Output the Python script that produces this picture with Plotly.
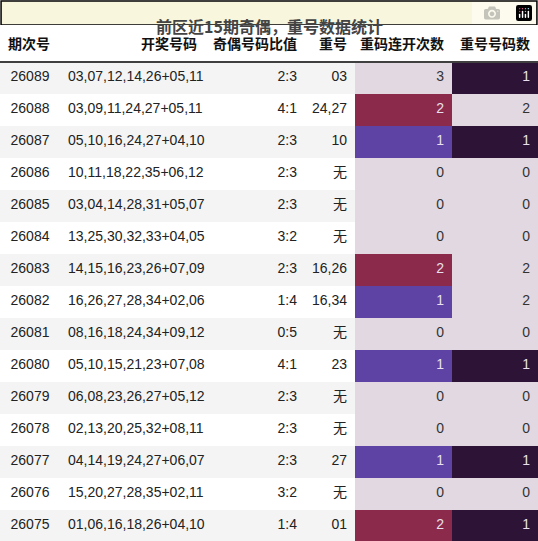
import plotly.graph_objects as go

periods = ["26089","26088","26087","26086","26085","26084","26083","26082","26081","26080","26079","26078","26077","26076","26075"]
numbers = ["03,07,12,14,26+05,11","03,09,11,24,27+05,11","05,10,16,24,27+04,10","10,11,18,22,35+06,12","03,04,14,28,31+05,07",
           "13,25,30,32,33+04,05","14,15,16,23,26+07,09","16,26,27,28,34+02,06","08,16,18,24,34+09,12","05,10,15,21,23+07,08",
           "06,08,23,26,27+05,12","02,13,20,25,32+08,11","04,14,19,24,27+06,07","15,20,27,28,35+02,11","01,06,16,18,26+04,10"]
ratios = ["2:3","4:1","2:3","2:3","2:3","3:2","2:3","1:4","0:5","4:1","2:3","2:3","2:3","3:2","1:4"]
repeats = ["03","24,27","10","无","无","无","16,26","16,34","无","23","无","无","27","无","01"]
streak = [3,2,1,0,0,0,2,1,0,1,0,0,1,0,2]
repeat_count = [1,2,1,0,0,0,2,2,0,1,0,0,1,0,1]
headers = ["期次号","开奖号码","奇偶号码比值","重号","重码连开次数","重号号码数"]

LIGHT = "#e2d8e2"
streak_col = {0: LIGHT, 3: LIGHT, 2: "#8b2a4b", 1: "#5e43a5"}
count_col = {0: LIGHT, 2: LIGHT, 1: "#2d1436"}
stripe = ["#f4f4f4" if i % 2 == 0 else "#ffffff" for i in range(len(periods))]
c5 = [streak_col[v] for v in streak]
c6 = [count_col[v] for v in repeat_count]
f5 = ["#e8e0ee" if v in (1, 2) else "#333333" for v in streak]
f6 = ["#e8e0ee" if v == 1 else "#333333" for v in repeat_count]
fc = ["#222222"] * len(periods)

fig = go.Figure(go.Table(
    columnwidth=[60, 145, 100, 50, 97, 86],
    header=dict(values=[f"<b>{h}</b>" for h in headers], height=37,
                align=["left", "right", "right", "right", "right", "right"],
                fill_color="white", line_color="white",
                font=dict(family="Noto Sans CJK SC", size=14, color="#111")),
    cells=dict(values=[periods, numbers, ratios, repeats, streak, repeat_count], height=32,
               align=["center", "left", "right", "right", "right", "right"],
               fill_color=[stripe, stripe, stripe, stripe, c5, c6],
               line_color=[stripe, stripe, stripe, stripe, c5, c6],
               font=dict(family="Liberation Sans, Noto Sans CJK SC", size=14,
                         color=[fc, fc, fc, fc, f5, f6])),
    domain=dict(x=[0, 1], y=[0, 1 - 25 / 541]),
))
fig.add_shape(type="rect", xref="paper", yref="paper", x0=0.002, x1=0.998, y0=1 - 25 / 541, y1=0.998,
              fillcolor="#f8f6dc", line=dict(color="black", width=1.5), layer="below")
fig.add_shape(type="line", xref="paper", yref="paper", x0=0, x1=1, y0=1 - 62 / 541, y1=1 - 62 / 541,
              line=dict(color="black", width=1.5))
fig.add_annotation(text="<b>前区近15期奇偶，重号数据统计</b>", xref="paper", yref="paper", x=0.5,
                   y=1 - 12.5 / 541, showarrow=False,
                   font=dict(family="Noto Sans CJK SC", size=16, color="#444"))
fig.update_layout(width=538, height=541, margin=dict(l=0, r=0, t=0, b=0),
                  paper_bgcolor="white")
fig.write_html("out.html", post_script="document.body.style.margin='0';document.body.style.overflow='hidden';")
